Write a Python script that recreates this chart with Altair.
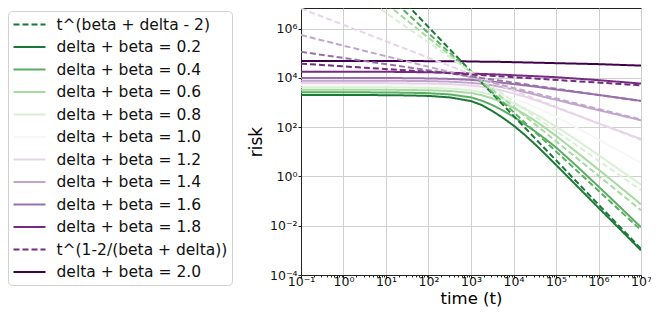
import altair as alt
import pandas as pd

# ---- values (log10 units) ----
LOG_T = [-1, 0, 1, 1.5, 2, 2.5, 3, 3.25, 3.5, 3.75, 4, 4.25, 4.5, 4.75, 5, 5.5, 6, 6.5, 7]

RISK_02 = [3.31, 3.31, 3.30, 3.29, 3.27, 3.21, 3.06, 2.90, 2.66, 2.38, 2.07, 1.71, 1.32, 0.90, 0.47, -0.40, -1.27, -2.13, -3.00]
RISK_04 = [3.42, 3.42, 3.41, 3.40, 3.38, 3.33, 3.21, 3.08, 2.90, 2.68, 2.43, 2.14, 1.84, 1.52, 1.18, 0.40, -0.41, -1.23, -2.06]
RISK_06 = [3.52, 3.52, 3.52, 3.51, 3.50, 3.47, 3.39, 3.30, 3.17, 3.00, 2.79, 2.54, 2.27, 1.97, 1.65, 0.97, 0.28, -0.42, -1.13]
RISK_08 = [3.62, 3.62, 3.62, 3.61, 3.60, 3.57, 3.50, 3.42, 3.31, 3.16, 2.98, 2.77, 2.54, 2.29, 2.03, 1.46, 0.87, 0.27, -0.33]
RISK_10 = [3.71, 3.71, 3.71, 3.70, 3.69, 3.66, 3.59, 3.52, 3.43, 3.31, 3.17, 3.01, 2.83, 2.63, 2.42, 1.97, 1.50, 1.03, 0.55]
RISK_12 = [3.79, 3.79, 3.79, 3.78, 3.77, 3.75, 3.69, 3.64, 3.57, 3.48, 3.37, 3.25, 3.11, 2.96, 2.80, 2.48, 2.15, 1.84, 1.52]
RISK_14 = [3.89, 3.89, 3.89, 3.88, 3.87, 3.85, 3.80, 3.76, 3.70, 3.62, 3.53, 3.43, 3.33, 3.22, 3.11, 2.90, 2.69, 2.49, 2.28]
RISK_16 = [4.00, 4.00, 4.00, 3.99, 3.98, 3.96, 3.92, 3.89, 3.85, 3.80, 3.75, 3.70, 3.65, 3.59, 3.53, 3.42, 3.31, 3.19, 3.07]
RISK_18 = [4.25, 4.25, 4.25, 4.24, 4.23, 4.21, 4.18, 4.16, 4.15, 4.13, 4.11, 4.09, 4.07, 4.05, 4.03, 3.97, 3.91, 3.84, 3.77]
RISK_20 = [4.69, 4.69, 4.69, 4.69, 4.68, 4.68, 4.67, 4.66, 4.66, 4.65, 4.64, 4.63, 4.62, 4.61, 4.60, 4.58, 4.56, 4.53, 4.50]

# dashed reference power laws: (log t start, log t end), (log risk start, log risk end)
DASH_T_02, DASH_R_02 = [1.48, 7], [7.0, -2.94]
DASH_T_04, DASH_R_04 = [1.26, 7], [7.0, -2.18]
DASH_T_06, DASH_R_06 = [1.02, 7], [7.0, -1.37]
DASH_T_08, DASH_R_08 = [0.70, 7], [7.0, -0.56]
DASH_T_12, DASH_R_12 = [-1, 7], [6.82, 1.49]
DASH_T_14, DASH_R_14 = [-1, 7], [5.74, 2.31]
DASH_T_16, DASH_R_16 = [-1, 7], [5.06, 3.06]
DASH_T_18, DASH_R_18 = [-1, 7], [4.58, 3.70]

LEGEND_LABELS = [
    "t^(beta + delta - 2)",
    "delta + beta = 0.2", "delta + beta = 0.4", "delta + beta = 0.6",
    "delta + beta = 0.8", "delta + beta = 1.0", "delta + beta = 1.2",
    "delta + beta = 1.4", "delta + beta = 1.6", "delta + beta = 1.8",
    "t^(1-2/(beta + delta))",
    "delta + beta = 2.0",
]
LEGEND_COLORS = ["#1b7837", "#1b7837", "#5aae61", "#a6dba0", "#d9f0d3", "#f7f7f7",
                 "#e7d4e8", "#c2a5cf", "#9970ab", "#762a83", "#762a83", "#40004b"]
HIDDEN_KEYS = ["dash 0.4", "dash 0.6", "dash 0.8", "dash 1.2", "dash 1.4", "dash 1.6"]
HIDDEN_COLORS = ["#5aae61", "#a6dba0", "#d9f0d3", "#e7d4e8", "#c2a5cf", "#9970ab"]

X_MAJOR = [1e-1, 1e0, 1e1, 1e2, 1e3, 1e4, 1e5, 1e6, 1e7]
X_MINOR_MULT = [2, 3, 4, 5, 6, 7, 8, 9]
Y_TICKS = [1e-4, 1e-2, 1e0, 1e2, 1e4, 1e6]
Y_DOMAIN = [1e-4, 6.9e6]

# ---- build table ----
solid = [
    ("delta + beta = 0.2", RISK_02), ("delta + beta = 0.4", RISK_04),
    ("delta + beta = 0.6", RISK_06), ("delta + beta = 0.8", RISK_08),
    ("delta + beta = 1.0", RISK_10), ("delta + beta = 1.2", RISK_12),
    ("delta + beta = 1.4", RISK_14), ("delta + beta = 1.6", RISK_16),
    ("delta + beta = 1.8", RISK_18), ("delta + beta = 2.0", RISK_20),
]
dashed = [
    ("t^(beta + delta - 2)", DASH_T_02, DASH_R_02), ("dash 0.4", DASH_T_04, DASH_R_04),
    ("dash 0.6", DASH_T_06, DASH_R_06), ("dash 0.8", DASH_T_08, DASH_R_08),
    ("dash 1.2", DASH_T_12, DASH_R_12), ("dash 1.4", DASH_T_14, DASH_R_14),
    ("dash 1.6", DASH_T_16, DASH_R_16), ("t^(1-2/(beta + delta))", DASH_T_18, DASH_R_18),
]
rows = []
for key, vals in solid:
    for lt, lv in zip(LOG_T, vals):
        rows.append({"t": 10.0 ** lt, "risk": 10.0 ** lv, "key": key})
for key, ts, rs in dashed:
    for lt, lv in zip(ts, rs):
        rows.append({"t": 10.0 ** lt, "risk": 10.0 ** lv, "key": key})
df = pd.DataFrame(rows)

x_values = list(X_MAJOR)
for dec in X_MAJOR[:-1]:
    for m in X_MINOR_MULT:
        x_values.append(dec * m)
x_values.sort()

domain = LEGEND_LABELS + HIDDEN_KEYS
colors = LEGEND_COLORS + HIDDEN_COLORS
DASHED_SET = {"t^(beta + delta - 2)", "t^(1-2/(beta + delta))"} | set(HIDDEN_KEYS)
dashes = [[6, 3] if k in DASHED_SET else [1, 0] for k in domain]

EXP = "round(log(datum.value)/LN10)"
IS_MAJOR = f"abs(log(datum.value)/LN10 - {EXP}) < 0.000001"
sup = (f"'10' + ({EXP} < 0 ? '\u207b' : '') + "
       "substring('\u2070\u00b9\u00b2\u00b3\u2074\u2075\u2076\u2077\u2078\u2079', "
       f"abs({EXP}), abs({EXP}) + 1)")
x_label = f"{IS_MAJOR} ? ({sup}) : ''"

FONT = "DejaVu Sans"

chart = alt.Chart(df).mark_line(strokeWidth=2, clip=True).encode(
    x=alt.X("t:Q", scale=alt.Scale(type="log", domain=[1e-1, 1e7], nice=False),
            axis=alt.Axis(values=x_values, labelExpr=x_label, title="time (t)",
                          titleFontSize=16.5, titleFontWeight="normal", titleFont=FONT,
                          titlePadding=2.8, labelFont=FONT, labelFontSize=12.5,
                          labelColor="#111", labelFlush=False, labelOverlap=False,
                          tickSize={"condition": {"test": IS_MAJOR, "value": 3}, "value": 2},
                          tickColor="#222",
                          labelPadding=-2.5, domainColor="#222",
                          grid=True, gridColor="#d0d0d0", gridWidth=1,
                          gridOpacity={"condition": {"test": IS_MAJOR, "value": 1}, "value": 0})),
    y=alt.Y("risk:Q", scale=alt.Scale(type="log", domain=Y_DOMAIN, nice=False),
            axis=alt.Axis(values=Y_TICKS, labelExpr=sup, title="risk",
                          titleFontSize=17, titleFontWeight="normal", titleFont=FONT,
                          titlePadding=4, labelFont=FONT, labelFontSize=12.5,
                          labelColor="#111", labelFlush=False, tickSize=3, tickColor="#222",
                          labelPadding=1, domainColor="#222",
                          grid=True, gridColor="#d0d0d0", gridWidth=1)),
    color=alt.Color("key:N", scale=alt.Scale(domain=domain, range=colors),
                    legend=alt.Legend(values=LEGEND_LABELS, title=None, orient="none",
                                      legendX=-293, legendY=3,
                                      symbolType="M-2,0H2", symbolSize=256,
                                      symbolStrokeWidth=2, symbolOffset=8,
                                      labelFont=FONT, labelFontSize=15.5,
                                      labelColor="#111", labelOffset=18,
                                      rowPadding=4.5, padding=4.5,
                                      fillColor="white", strokeColor="#d0d0d0",
                                      cornerRadius=4, labelLimit=300)),
    strokeDash=alt.StrokeDash("key:N", scale=alt.Scale(domain=domain, range=dashes),
                              legend=alt.Legend(values=LEGEND_LABELS, title=None)),
).properties(
    width=340, height=267,
    autosize=alt.AutoSizeParams(type="none"),
    padding={"left": 293, "top": 0, "right": 10, "bottom": 33},
).configure_view(stroke="#222", strokeWidth=1)

chart.save("out.html", embed_options={"renderer": "svg", "actions": False})
